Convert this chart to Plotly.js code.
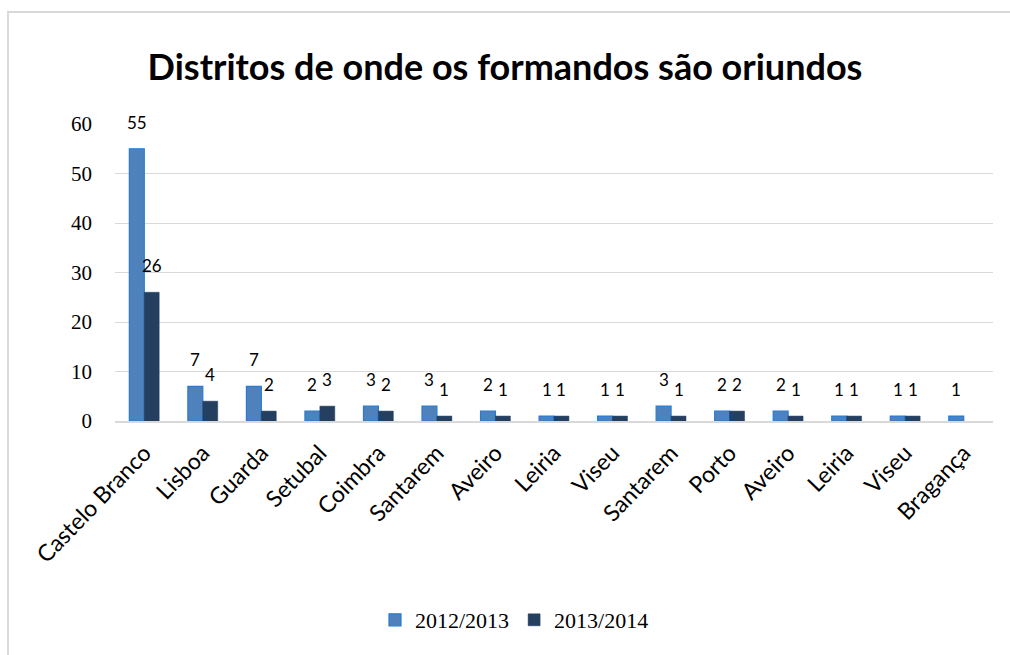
<!DOCTYPE html>
<html>
<head>
<meta charset="utf-8">
<script src="https://cdn.plot.ly/plotly-3.0.1.min.js"></script>
<style>
  html, body { margin: 0; padding: 0; background: #fff; }
  #wrap { position: relative; width: 1010px; height: 655px; overflow: hidden; }
  #chart { width: 1010px; height: 655px; }
  #frame { position: absolute; left: 7px; top: 11px; width: 1020px; height: 700px;
           border-top: 2px solid #d9d9d9; border-left: 2px solid #d9d9d9;
           pointer-events: none; }
</style>
</head>
<body>
<div id="wrap">
  <div id="chart"></div>
  <div id="frame"></div>
</div>
<script>
const categories = ["Castelo Branco", "Lisboa", "Guarda", "Setubal", "Coimbra", "Santarem", "Aveiro", "Leiria", "Viseu", "Santarem", "Porto", "Aveiro", "Leiria", "Viseu", "Bragança"];
const series2012 = [55, 7, 7, 2, 3, 3, 2, 1, 1, 3, 2, 2, 1, 1, 1];
const series2013 = [26, 4, 2, 3, 2, 1, 1, 1, 1, 1, 2, 1, 1, 1, null];
const seriesNames = ["2012/2013", "2013/2014"];
const yTicks = [0, 10, 20, 30, 40, 50, 60];

const xIdx = categories.map((_, i) => i);
const bargap = 0.49;
const barW = (1 - bargap) / 2;

const traces = [
  {
    type: "bar", name: seriesNames[0], x: xIdx, y: series2012,
    marker: { color: "#4f81bd", line: { color: "#2a7bd0", width: 1.2 } }
  },
  {
    type: "bar", name: seriesNames[1], x: xIdx, y: series2013,
    marker: { color: "#243f60", line: { color: "#243f60", width: 0.5 } }
  }
];

const labelFont = { family: "Lato, 'Open Sans', sans-serif", size: 17, color: "#000" };
const annotations = [];
[series2012, series2013].forEach((s, k) => {
  s.forEach((v, i) => {
    if (v === null || v === undefined) return;
    annotations.push({
      x: i + (k === 0 ? -barW / 2 : barW / 2), y: v, xref: "x", yref: "y",
      text: String(v), showarrow: false, yanchor: "bottom", yshift: 14,
      font: labelFont
    });
  });
});

const layout = {
  width: 1010, height: 655,
  margin: { l: 115, r: 17, t: 124, b: 234 },
  paper_bgcolor: "#fff", plot_bgcolor: "#fff",
  title: {
    text: "<b>Distritos de onde os formandos são oriundos</b>",
    font: { family: "Lato, 'Open Sans', sans-serif", size: 36, color: "#000" },
    x: 0.5, xanchor: "center", y: 0.897, yanchor: "middle"
  },
  barmode: "group", bargap: bargap, bargroupgap: 0,
  showlegend: true,
  legend: {
    orientation: "h", x: 0.455, xanchor: "center", y: -0.67, yanchor: "middle",
    font: { family: "'Liberation Serif', 'DejaVu Serif', serif", size: 22, color: "#000" },
    traceorder: "normal", itemwidth: 30
  },
  xaxis: {
    range: [-0.5, categories.length - 0.5],
    tickmode: "array", tickvals: xIdx, ticktext: categories,
    tickangle: -46, ticks: "", showgrid: false, ticklabelstandoff: 8,
    showline: true, linecolor: "#d9d9d9", linewidth: 1.5,
    tickfont: { family: "Lato, 'Open Sans', sans-serif", size: 23, color: "#000" },
    zeroline: false, fixedrange: true
  },
  yaxis: {
    range: [0, 60], tickmode: "array", tickvals: yTicks,
    showgrid: true, gridcolor: "#d9d9d9", gridwidth: 1,
    zeroline: false, showline: false, ticks: "", ticklen: 0, ticklabelstandoff: 22,
    tickfont: { family: "'Liberation Serif', 'DejaVu Serif', serif", size: 21, color: "#000" },
    fixedrange: true, automargin: false
  },
  annotations: annotations
};

Plotly.newPlot("chart", traces, layout, { displayModeBar: false, staticPlot: true });
</script>
</body>
</html>
